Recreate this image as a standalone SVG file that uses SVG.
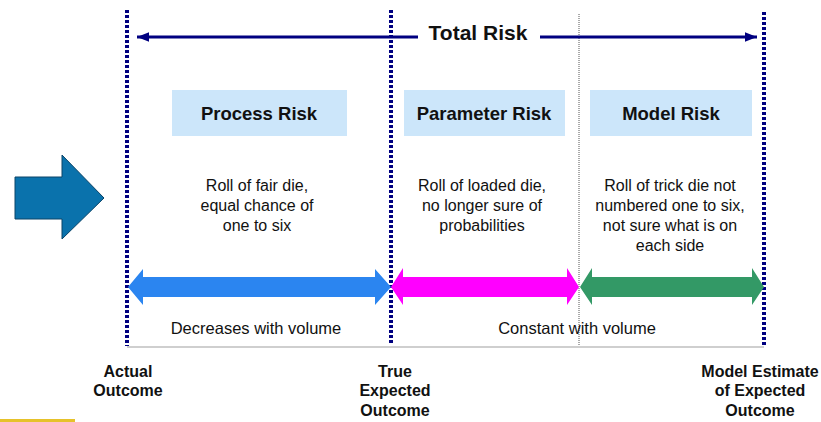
<svg xmlns="http://www.w3.org/2000/svg" width="821" height="422" viewBox="0 0 821 422">
<style>
.t{font-family:"Liberation Sans",Arial,sans-serif;fill:#111;text-anchor:middle}
.h{font-size:18.5px;font-weight:bold}
.b{font-size:16px}
.v{font-size:16.5px}
.l{font-size:16px;font-weight:bold}
.box{fill:#cce6fa}
.dot{stroke:#000080;stroke-width:4;stroke-dasharray:3 2;fill:none}
</style>
<defs>
<marker id="ah" viewBox="0 0 10 10" refX="10" refY="5" markerWidth="4" markerHeight="4" orient="auto-start-reverse">
<path d="M0,1 L10,5 L0,9 Z" fill="#000080"/>
</marker>
</defs>
<rect width="821" height="422" fill="#fff"/>
<g id="bigarrow">
<path d="M15,177 L62,177 L62,155 L104,198 L62,239 L62,219 L15,219 Z" fill="#0a72ac" stroke="#0b4468" stroke-width="1"/>
</g>
<g id="connectors">
<line x1="127" y1="347" x2="764" y2="347" stroke="#cfcfcf" stroke-width="2"/>
<line class="dot" x1="127" y1="10" x2="127" y2="346"/>
<line class="dot" x1="391" y1="10" x2="391" y2="344"/>
<line class="dot" x1="764" y1="12" x2="764" y2="346"/>
<line x1="579" y1="14" x2="579" y2="346" stroke="#555" stroke-width="1" stroke-dasharray="1 1"/>
<line x1="418" y1="37" x2="137" y2="37" stroke="#000080" stroke-width="3" marker-end="url(#ah)"/>
<line x1="540" y1="37" x2="757" y2="37" stroke="#000080" stroke-width="3" marker-end="url(#ah)"/>
<path id="blue" d="M128,287 L143,269 L143,277 L375,277 L375,269 L391,287 L375,305 L375,297 L143,297 L143,305 Z" fill="#2b85f0"/>
<path id="magenta" d="M391,287 L403,268 L403,277 L567,277 L567,268 L579,287 L567,305 L567,297 L403,297 L403,305 Z" fill="#ff00ff"/>
<path id="green" d="M580,287 L592,268 L592,277 L752,277 L752,268 L764,287 L752,305 L752,297 L592,297 L592,305 Z" fill="#339966"/>
</g>
<g id="total">
<text class="t" x="478" y="40" font-size="21" font-weight="bold">Total Risk</text>
</g>
<g id="process">
<rect class="box" x="172" y="90" width="175" height="46"/>
<text class="t h" x="259" y="120">Process Risk</text>
<text class="t b" x="257" y="191">Roll of fair die,</text>
<text class="t b" x="257" y="211">equal chance of</text>
<text class="t b" x="257" y="231">one to six</text>
</g>
<g id="parameter">
<rect class="box" x="404" y="90" width="161" height="46"/>
<text class="t h" x="484" y="120">Parameter Risk</text>
<text class="t b" x="482" y="191">Roll of loaded die,</text>
<text class="t b" x="482" y="211">no longer sure of</text>
<text class="t b" x="482" y="231">probabilities</text>
</g>
<g id="model">
<rect class="box" x="590" y="90" width="162" height="46"/>
<text class="t h" x="671" y="120">Model Risk</text>
<text class="t b" x="670" y="191">Roll of trick die not</text>
<text class="t b" x="670" y="211">numbered one to six,</text>
<text class="t b" x="670" y="231">not sure what is on</text>
<text class="t b" x="670" y="251">each side</text>
</g>
<g id="volume">
<text class="t v" x="256" y="334">Decreases with volume</text>
<text class="t v" x="577" y="334">Constant with volume</text>
</g>
<g id="actual">
<text class="t l" x="128" y="377">Actual</text>
<text class="t l" x="128" y="396">Outcome</text>
</g>
<g id="true">
<text class="t l" x="395" y="377">True</text>
<text class="t l" x="395" y="396">Expected</text>
<text class="t l" x="395" y="416">Outcome</text>
</g>
<g id="estimate">
<text class="t l" x="760" y="377">Model Estimate</text>
<text class="t l" x="760" y="396">of Expected</text>
<text class="t l" x="760" y="416">Outcome</text>
</g>
<rect x="0" y="419" width="75" height="3" fill="#e6c22a"/>
</svg>
